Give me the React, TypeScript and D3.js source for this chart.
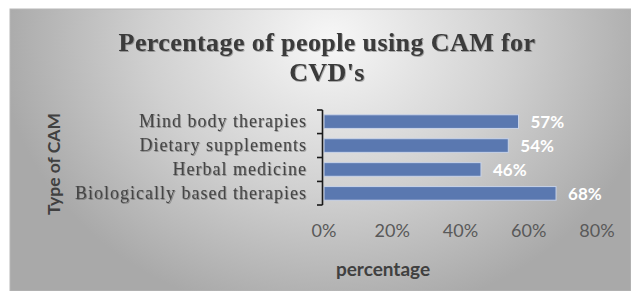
import React, { useEffect, useRef } from 'react'
import * as d3 from 'd3'

const categories = ['Mind body therapies', 'Dietary supplements', 'Herbal medicine', 'Biologically based therapies']
const values = [57, 54, 46, 68]
const ticks = [0, 20, 40, 60, 80]

export default function App() {
  const ref = useRef<SVGSVGElement | null>(null)

  useEffect(() => {
    const width = 631
    const height = 291
    const svg = d3.select(ref.current!)
    svg.selectAll('*').remove()

    const defs = svg.append('defs')
    const grad = defs.append('radialGradient').attr('id', 'bg')
      .attr('gradientUnits', 'userSpaceOnUse')
      .attr('cx', 330).attr('cy', 40).attr('r', 330)
      .attr('gradientTransform', 'translate(330 40) scale(1 0.85) translate(-330 -40)')
    grad.append('stop').attr('offset', '0%').attr('stop-color', '#f7f7f7')
    grad.append('stop').attr('offset', '55%').attr('stop-color', '#d0d0d0')
    grad.append('stop').attr('offset', '100%').attr('stop-color', '#a9a9a9')

    // soft shadow like the original's text
    const sh = defs.append('filter').attr('id', 'sh').attr('x', '-5%').attr('y', '-20%').attr('width', '110%').attr('height', '140%')
    sh.append('feDropShadow').attr('dx', 0.8).attr('dy', 0.8).attr('stdDeviation', 0.7)
      .attr('flood-color', '#000').attr('flood-opacity', 0.35)

    svg.append('rect').attr('width', width).attr('height', height).attr('fill', '#ffffff')
    svg.append('rect').attr('x', 10).attr('y', 9).attr('width', width - 10).attr('height', height - 9)
      .attr('fill', 'url(#bg)').attr('stroke', '#b8b8b8').attr('stroke-width', 1)

    const x = d3.scaleLinear().domain([0, 80]).range([324, 597])
    const y = d3.scaleBand<string>().domain(categories).range([110, 205]).paddingInner(0.43).paddingOuter(0.2)

    // title, two lines
    const tAttrs = (t: any) => t.attr('text-anchor', 'middle')
      .attr('font-family', '"Liberation Serif", serif').attr('font-weight', 700)
      .attr('font-size', 26).attr('letter-spacing', 0.4).attr('fill', '#3a3a3a').attr('filter', 'url(#sh)')
    tAttrs(svg.append('text').attr('x', 327).attr('y', 51)).text('Percentage of people using CAM for')
    tAttrs(svg.append('text').attr('x', 327).attr('y', 81)).text("CVD's")

    // bars
    svg.append('g').selectAll('rect').data(categories).enter().append('rect')
      .attr('x', x(0))
      .attr('y', d => y(d)!)
      .attr('width', (d, i) => x(values[i]) - x(0))
      .attr('height', y.bandwidth())
      .attr('fill', '#5a78b0')
      .attr('stroke', '#c9d3e8')
      .attr('stroke-width', 1)

    // value labels
    svg.append('g').selectAll('text').data(categories).enter().append('text')
      .attr('x', (d, i) => x(values[i]) + 12)
      .attr('y', d => y(d)! + y.bandwidth() / 2)
      .attr('dy', '0.36em')
      .attr('font-family', 'Lato, sans-serif').attr('font-weight', 700).attr('font-size', 17)
      .attr('fill', '#ffffff')
      .text((d, i) => `${values[i]}%`)

    // y axis bracket
    const ax = svg.append('g').attr('stroke', '#1a1a1a').attr('stroke-width', 1.6).attr('fill', 'none')
    ax.append('line').attr('x1', 322.5).attr('x2', 322.5).attr('y1', 110).attr('y2', 205)
    const bounds = [110, ...categories.slice(1).map(c => y(c)! - (y.step() - y.bandwidth()) / 2), 205]
    bounds.forEach(b => {
      ax.append('line').attr('x1', 317).attr('x2', 322.5).attr('y1', b).attr('y2', b)
    })

    // category labels
    svg.append('g').selectAll('text').data(categories).enter().append('text')
      .attr('x', 307)
      .attr('y', d => y(d)! + y.bandwidth() / 2)
      .attr('dy', '0.32em')
      .attr('text-anchor', 'end')
      .attr('font-family', '"Liberation Serif", serif').attr('font-size', 18)
      .attr('letter-spacing', 1)
      .attr('fill', '#454545').attr('filter', 'url(#sh)')
      .text(d => d)

    // x tick labels
    svg.append('g').selectAll('text').data(ticks).enter().append('text')
      .attr('x', d => x(d))
      .attr('y', 237)
      .attr('text-anchor', 'middle')
      .attr('font-family', 'Lato, sans-serif').attr('font-size', 18)
      .attr('fill', '#595959')
      .text(d => `${d}%`)

    // axis titles
    svg.append('text').attr('x', 383).attr('y', 276).attr('text-anchor', 'middle')
      .attr('font-family', 'Lato, sans-serif').attr('font-weight', 700).attr('font-size', 19)
      .attr('fill', '#404040').text('percentage')

    svg.append('text').attr('transform', 'translate(60,164) rotate(-90)').attr('text-anchor', 'middle')
      .attr('font-family', 'Lato, sans-serif').attr('font-weight', 700).attr('font-size', 17.5)
      .attr('fill', '#404040').text('Type of CAM')
  }, [])

  return (
    <svg ref={ref} width={631} height={291} style={{ position: 'absolute', left: 0, top: 0 }} />
  )
}
